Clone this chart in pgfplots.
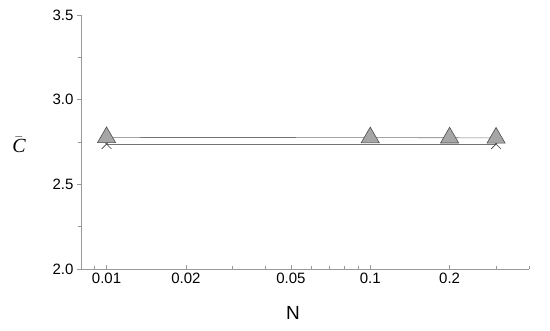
\documentclass[border=0pt]{standalone}
\usepackage{pgfplots}
\pgfplotsset{compat=1.18}
\usepackage{fontspec}
\setmainfont{Liberation Sans}
\newfontfamily\serifit{Liberation Serif}
\begin{document}
\begin{tikzpicture}[x=1pt,y=1pt]
\useasboundingbox (-81,-61) rectangle (469,269);
\begin{axis}[
  at={(0,0)}, anchor=south west,
  scale only axis, width=448pt, height=254pt,
  xmode=log, xmin=0.008, xmax=0.4, ymin=2.0, ymax=3.5,
  axis lines=left, axis line style={draw=gray!80, -, line width=0.6pt},
  xtick={0.01,0.02,0.05,0.1,0.2},
  xticklabels={0.01,0.02,0.05,0.1,0.2},
  minor xtick={0.008,0.009,0.03,0.04,0.06,0.07,0.08,0.09,0.3,0.4},
  ytick={2.0,2.5,3.0,3.5},
  minor ytick={2.25,2.75,3.25},
  yticklabel style={/pgf/number format/fixed,/pgf/number format/fixed zerofill,/pgf/number format/precision=1},
  /pgf/number format/assume math mode=true,
  xtick align=inside, ytick align=outside,
  major tick length=4pt, minor tick length=3pt,
  tick style={draw=gray!80, line width=0.5pt},
  ticklabel style={font=\fontsize{15}{17}\selectfont, text=black},
  xlabel={N}, ylabel={$\bar{\mbox{\serifit\itshape C}}$},
  xlabel style={font=\fontsize{19}{21}\selectfont, at={(rel axis cs:0.473,0)}, anchor=center, yshift=-44pt},
  ylabel style={font=\fontsize{20}{22}\selectfont, rotate=-90, at={(rel axis cs:0,0.49)}, anchor=center, xshift=-62pt},
  clip=false,
]
\addplot[draw=gray!90!black, line width=0.6pt, mark=x, mark size=7pt, mark options={draw=black!75, line width=0.6pt}]
  coordinates {(0.01,2.738) (0.3,2.738)};
\addplot[draw=gray!90!black, line width=0.6pt, mark=triangle*, mark size=10.5pt, mark options={fill=black!35, draw=black!70, line width=0.6pt}]
  coordinates {(0.01,2.777) (0.1,2.776) (0.2,2.775) (0.3,2.774)};
\end{axis}
\end{tikzpicture}
\end{document}
